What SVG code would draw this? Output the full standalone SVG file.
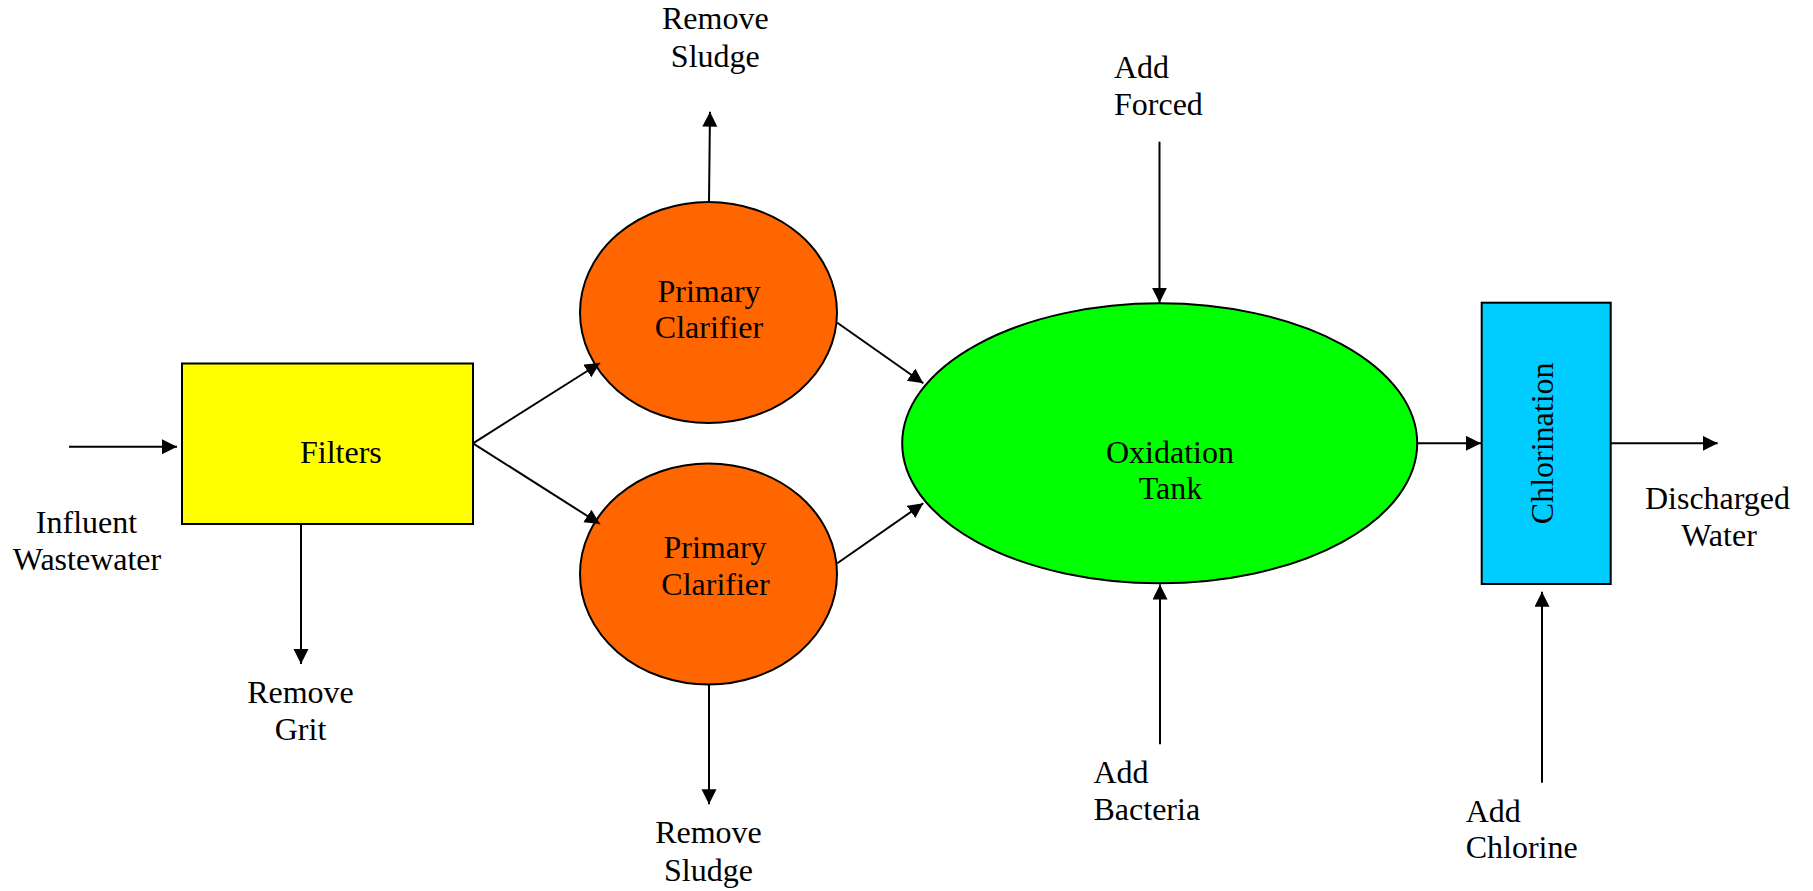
<svg xmlns="http://www.w3.org/2000/svg" width="1813" height="891" viewBox="0 0 1813 891">
<style>
text{font-family:"Liberation Serif","Times New Roman",serif;font-size:32px;fill:#000}
.c{text-anchor:middle}
.shape{stroke:#000;stroke-width:2}
.conn line{stroke:#000;stroke-width:2;marker-end:url(#ah)}
</style>
<defs>
<marker id="ah" markerUnits="userSpaceOnUse" markerWidth="16" markerHeight="16" refX="15" refY="7.5" orient="auto">
<path d="M0,0 L15,7.5 L0,15 z" fill="#000"/>
</marker>
</defs>
<rect width="1813" height="891" fill="#fff"/>
<g id="filters">
<rect class="shape" x="182" y="363.5" width="291" height="160.5" fill="#FFFF00"/>
<text x="300" y="463">Filters</text>
</g>
<g id="clarifier1">
<ellipse class="shape" cx="708.5" cy="312.5" rx="128.5" ry="110.5" fill="#FF6600"/>
<text class="c" x="709" y="301.5">Primary</text>
<text class="c" x="709" y="338">Clarifier</text>
</g>
<g id="clarifier2">
<ellipse class="shape" cx="708.5" cy="574" rx="128.5" ry="110.5" fill="#FF6600"/>
<text class="c" x="715" y="558">Primary</text>
<text class="c" x="715.5" y="594.5">Clarifier</text>
</g>
<g id="oxidation">
<ellipse class="shape" cx="1159.7" cy="443.3" rx="257.5" ry="140" fill="#00FF00"/>
<text class="c" x="1170" y="463">Oxidation</text>
<text class="c" x="1170.5" y="499">Tank</text>
</g>
<g id="chlorination">
<rect class="shape" x="1481.7" y="302.7" width="129" height="281.3" fill="#00CCFF"/>
<text class="c" transform="translate(1553 443.3) rotate(-90)" x="0" y="0">Chlorination</text>
</g>
<g id="labels">
<text class="c" x="86.5" y="533.3">Influent</text>
<text class="c" x="87" y="570">Wastewater</text>
<text class="c" x="300.5" y="703.3">Remove</text>
<text class="c" x="300.5" y="740">Grit</text>
<text class="c" x="715.3" y="29.3">Remove</text>
<text class="c" x="715.3" y="66.5">Sludge</text>
<text class="c" x="708.5" y="843.3">Remove</text>
<text class="c" x="708.5" y="880.5">Sludge</text>
<text x="1114" y="78.3">Add</text>
<text x="1114" y="115">Forced</text>
<text x="1093.5" y="783.3">Add</text>
<text x="1093.5" y="820">Bacteria</text>
<text x="1465.7" y="821.7">Add</text>
<text x="1465.7" y="857.7">Chlorine</text>
<text class="c" x="1717.5" y="509.3">Discharged</text>
<text class="c" x="1719" y="546">Water</text>
</g>
<g id="connectors" class="conn">
<line x1="69" y1="446.7" x2="177" y2="446.7"/>
<line x1="473" y1="443.3" x2="600" y2="363"/>
<line x1="473" y1="443.3" x2="600" y2="524"/>
<line x1="301" y1="524" x2="301" y2="664"/>
<line x1="709" y1="201.7" x2="710" y2="111.7"/>
<line x1="709" y1="684.5" x2="709" y2="804.3"/>
<line x1="837.3" y1="322.7" x2="923.3" y2="383.3"/>
<line x1="837.3" y1="563.3" x2="923.3" y2="503.3"/>
<line x1="1159.5" y1="141.7" x2="1159.5" y2="302.7"/>
<line x1="1160" y1="744.3" x2="1160" y2="584.5"/>
<line x1="1417" y1="443.3" x2="1481" y2="443.3"/>
<line x1="1610.7" y1="443.3" x2="1717.7" y2="443.3"/>
<line x1="1542" y1="782.7" x2="1542" y2="591.7"/>
</g>
</svg>
